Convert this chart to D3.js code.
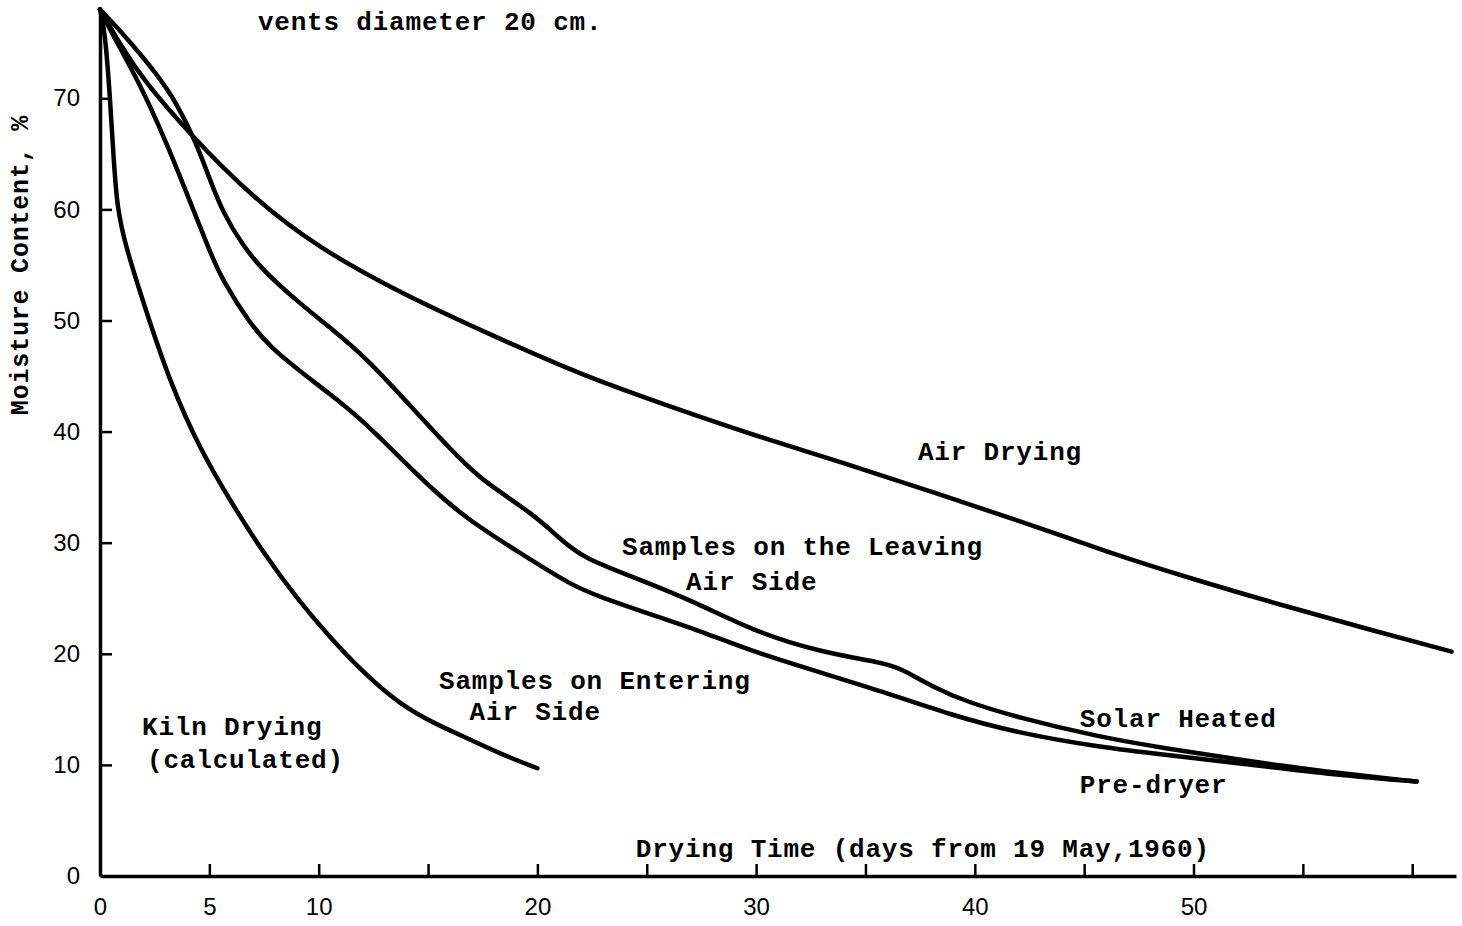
<!DOCTYPE html>
<html>
<head>
<meta charset="utf-8">
<script src="https://cdn.jsdelivr.net/npm/d3@7"></script>
<style>
  html, body { margin: 0; padding: 0; background: #fff; }
  svg { display: block; }
  .note { font-family: "Liberation Mono", "DejaVu Sans Mono", monospace; font-weight: bold; font-size: 26px; letter-spacing: 0.8px; fill: #000; }
  .tick text { font-family: "Liberation Sans", Arial, sans-serif; font-size: 24px; fill: #000; }
</style>
</head>
<body>
<svg id="chart" width="1462" height="926"></svg>
<script>
// ---- data (days, moisture content %) ----
const airDrying = [[0,78],[1,74.6],[2,71.6],[4,67],[7,61],[10,56.5],[14,52.2],[18,48.6],[22,45.1],[26,42.3],[30,39.6],[34,37.2],[38,34.6],[42,32],[46,29.2],[50,26.7],[54,24.4],[58,22.2],[61.8,20.2]];
const leavingAirSide = [[0,78],[1.2,75.5],[2.6,72.2],[3.5,69.6],[4.4,66],[5,62.8],[5.6,59.8],[6.5,56.8],[7.5,54.4],[9.1,51.6],[10.5,49.4],[12.2,46.6],[14.2,42.3],[16.5,37.4],[17.7,35.3],[19.8,32.6],[21,30.4],[22.1,28.6],[24.4,26.9],[27.4,24.5],[29.7,22.2],[32.8,20.2],[35.8,19.2],[36.6,18.7],[38.1,17],[39.6,15.7],[41.9,14.3],[45.7,12.5],[48.7,11.5],[52.3,10.4],[56,9.4],[60.2,8.5]];
const enteringAirSide = [[0,78],[0.5,76],[1.8,71.4],[3,66.2],[4.1,60.8],[5,56.3],[5.6,53.6],[6.9,49.6],[7.8,47.6],[9.1,45.5],[10.5,43.4],[11.9,41.2],[13.7,37.7],[15.2,34.8],[16.8,32.1],[19.1,29.2],[21.6,26.1],[22.9,25.1],[25.1,23.6],[27.4,22.1],[29.7,20.3],[32.8,18.4],[35.8,16.6],[38.9,14.5],[41.9,12.9],[45.7,11.6],[48.7,10.9],[52.3,10.1],[56,9.2],[60.2,8.5]];
const kilnDrying = [[0,78],[0.23,76],[0.46,70],[0.6,65.3],[0.78,60],[1.2,56.5],[2,51.5],[3.2,44.4],[4.6,38.3],[6.1,33.3],[7.5,29],[9,25],[10.5,21.5],[12.2,18],[13.7,15.5],[15.2,13.8],[16.8,12.4],[18.3,11],[20,9.7]];

const xTicks = [0,5,10,15,20,25,30,35,40,45,50,55,60];
const xTickLabels = {0:"0",5:"5",10:"10",20:"20",30:"30",40:"40",50:"50"};
const yTicks = [0,10,20,30,40,50,60,70];

const notes = [
  {text: "vents diameter 20 cm.", d: 7.22, v: 76.9},
  {text: "Air Drying", d: 37.4, v: 38.2},
  {text: "Samples on the Leaving", d: 23.87, v: 29.6},
  {text: "Air Side", d: 26.8, v: 26.5},
  {text: "Samples on Entering", d: 15.5, v: 17.6},
  {text: "Air Side", d: 16.9, v: 14.8},
  {text: "Kiln Drying", d: 1.92, v: 13.4},
  {text: "(calculated)", d: 2.15, v: 10.5},
  {text: "Solar Heated", d: 44.8, v: 14.2},
  {text: "Pre-dryer", d: 44.8, v: 8.2},
  {text: "Drying Time (days from 19 May,1960)", d: 24.5, v: 2.5}
];
const yTitle = "Moisture Content, %";

// ---- scales ----
const x = d3.scaleLinear().domain([0, 62]).range([100, 100 + 62 * 21.87]);
const y = d3.scaleLinear().domain([0, 78]).range([876, 876 - 78 * 11.11]);

const svg = d3.select("#chart");

// axes
const xAxis = d3.axisBottom(x).tickValues(xTicks)
  .tickSizeInner(-12).tickSizeOuter(0).tickPadding(22)
  .tickFormat(d => xTickLabels[d] || "");
const gx = svg.append("g").attr("transform", `translate(0,${y(0)})`).call(xAxis);
gx.select(".domain").attr("stroke", "#000").attr("stroke-width", 3.5);
gx.selectAll(".tick line").attr("stroke", "#000").attr("stroke-width", 2.5);
gx.selectAll(".tick text").attr("dy", "0.71em");

const yAxis = d3.axisLeft(y).tickValues(yTicks)
  .tickSizeInner(-12).tickSizeOuter(0).tickPadding(20);
const gy = svg.append("g").attr("transform", `translate(${x(0)},0)`).call(yAxis);
gy.select(".domain").attr("stroke", "#000").attr("stroke-width", 3.5);
gy.selectAll(".tick line").attr("stroke", "#000").attr("stroke-width", 2.5)
  .attr("display", d => d === 0 ? "none" : null);

// curves
const line = d3.line().x(d => x(d[0])).y(d => y(d[1])).curve(d3.curveBasis);
[airDrying, leavingAirSide, enteringAirSide, kilnDrying].forEach(s => {
  svg.append("path").datum(s).attr("d", line)
    .attr("fill", "none").attr("stroke", "#000")
    .attr("stroke-width", 4.5).attr("stroke-linejoin", "round").attr("stroke-linecap", "round");
});

// annotations
svg.selectAll("text.note").data(notes).enter().append("text")
  .attr("class", "note")
  .attr("x", d => x(d.d)).attr("y", d => y(d.v))
  .attr("dy", "0.32em")
  .text(d => d.text);

svg.append("text").attr("class", "note")
  .attr("transform", `translate(20,265) rotate(-90)`)
  .attr("text-anchor", "middle").attr("dy", "0.32em")
  .style("font-size", "25px")
  .text(yTitle);
</script>
</body>
</html>
